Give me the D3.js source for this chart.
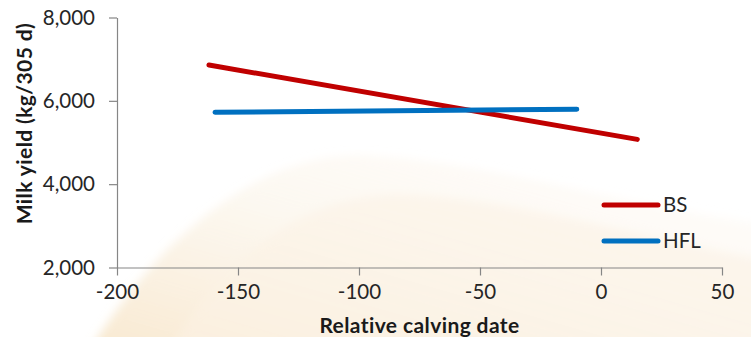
<!DOCTYPE html>
<html>
<head>
<meta charset="utf-8">
<script src="https://cdn.jsdelivr.net/npm/d3@7"></script>
<style>
  html, body { margin: 0; padding: 0; background: #fff; }
  svg { display: block; font-family: Lato, "Open Sans", sans-serif; }
</style>
</head>
<body>
<div id="chart"></div>
<script>
// series (regression lines, end points only)
const series_names = ["BS", "HFL"];
const series_colors = ["#c00000", "#0070c0"];
const bs_x = [-162, 15];
const bs_y = [6860, 5075];
const hfl_x = [-159.5, -10];
const hfl_y = [5725, 5800];
const x_ticks = [-200, -150, -100, -50, 0, 50];
const y_ticks = [2000, 4000, 6000, 8000];

const WIDTH = 751,
  HEIGHT = 337,
  MARGIN = { top: 17.5, right: 29, bottom: 70, left: 117 };

var svg = d3
  .select("#chart")
  .append("svg")
  .attr("width", WIDTH)
  .attr("height", HEIGHT);

// faint cream swoosh in the background
var defs = svg.append("defs");
var grad = defs
  .append("linearGradient")
  .attr("id", "cream")
  .attr("x1", 0).attr("y1", 1)
  .attr("x2", 1).attr("y2", 0);
grad.append("stop").attr("offset", "0%").attr("stop-color", "#f4dcb4").attr("stop-opacity", 0.9);
grad.append("stop").attr("offset", "50%").attr("stop-color", "#f9eedc").attr("stop-opacity", 0.6);
grad.append("stop").attr("offset", "100%").attr("stop-color", "#fcf7ee").attr("stop-opacity", 0.3);
defs.append("filter")
  .attr("id", "soft")
  .attr("x", "-10%").attr("y", "-10%")
  .attr("width", "120%").attr("height", "120%")
  .append("feGaussianBlur")
  .attr("stdDeviation", 5);

svg.append("rect").attr("width", WIDTH).attr("height", HEIGHT).attr("fill", "#fff");
var swoosh = svg.append("g").attr("filter", "url(#soft)");
swoosh.append("path")
  .attr("d", "M90,350 C170,220 270,155 360,155 C470,158 600,200 770,225 L770,350 Z")
  .attr("fill", "url(#cream)")
  .attr("opacity", 0.7);
swoosh.append("path")
  .attr("d", "M170,350 C230,250 310,195 400,195 C520,198 640,240 770,260 L770,350 Z")
  .attr("fill", "#fbf2e4")
  .attr("opacity", 0.6);

var x = d3.scaleLinear()
  .domain([-200, 50])
  .range([MARGIN.left, WIDTH - MARGIN.right]);
var y = d3.scaleLinear()
  .domain([2000, 8000])
  .range([HEIGHT - MARGIN.bottom + 0.5, MARGIN.top]);

var x_axis = svg.append("g")
  .attr("transform", "translate(0," + y(2000) + ")")
  .call(d3.axisBottom(x).tickValues(x_ticks).tickSize(8).tickPadding(9).tickSizeOuter(0)
    .tickFormat(function(d) { return String(d); }));
var y_axis = svg.append("g")
  .attr("transform", "translate(" + x(-200) + ",0)")
  .call(d3.axisLeft(y).tickValues(y_ticks).tickSize(8).tickPadding(14).tickSizeOuter(0)
    .tickFormat(d3.format(",")));

[x_axis, y_axis].forEach(function(g) {
  g.select(".domain").attr("stroke", "#868686").attr("stroke-width", 1.2);
  g.selectAll(".tick line").attr("stroke", "#868686").attr("stroke-width", 1.2);
  g.selectAll(".tick text")
    .attr("fill", "#262626")
    .style("font-size", "20.5px")
    .style("font-family", "Lato, sans-serif");
});
x_axis.selectAll(".tick text").attr("dy", "0.71em");

var line = d3.line()
  .x(function(d) { return x(d[0]); })
  .y(function(d) { return y(d[1]); });

var data = [d3.zip(bs_x, bs_y), d3.zip(hfl_x, hfl_y)];

svg.selectAll(".series")
  .data(data)
  .enter()
  .append("path")
  .attr("class", "series")
  .attr("d", line)
  .attr("fill", "none")
  .attr("stroke", function(d, i) { return series_colors[i]; })
  .attr("stroke-width", 5)
  .attr("stroke-linecap", "round");

// legend
var legend = svg.selectAll(".legend")
  .data(series_names)
  .enter()
  .append("g")
  .attr("class", "legend")
  .attr("transform", function(d, i) { return "translate(604," + (205 + i * 36) + ")"; });
legend.append("line")
  .attr("x1", 0).attr("x2", 54)
  .attr("stroke", function(d, i) { return series_colors[i]; })
  .attr("stroke-width", 5)
  .attr("stroke-linecap", "round");
legend.append("text")
  .attr("x", 59)
  .attr("dy", "0.36em")
  .attr("fill", "#262626")
  .style("font-size", "20.5px")
  .text(function(d) { return d; });

// axis titles
svg.append("text")
  .attr("x", (x(-200) + x(50)) / 2)
  .attr("y", 333)
  .attr("text-anchor", "middle")
  .attr("fill", "#1a1a1a")
  .style("font-weight", "bold")
  .style("font-size", "21px")
  .style("letter-spacing", "0.4px")
  .text("Relative calving date");

svg.append("text")
  .attr("transform", "translate(32,123.5) rotate(-90)")
  .attr("text-anchor", "middle")
  .attr("fill", "#1a1a1a")
  .style("font-weight", "bold")
  .style("font-size", "21px")
  .style("letter-spacing", "0.4px")
  .text("Milk yield (kg/305 d)");
</script>
</body>
</html>
